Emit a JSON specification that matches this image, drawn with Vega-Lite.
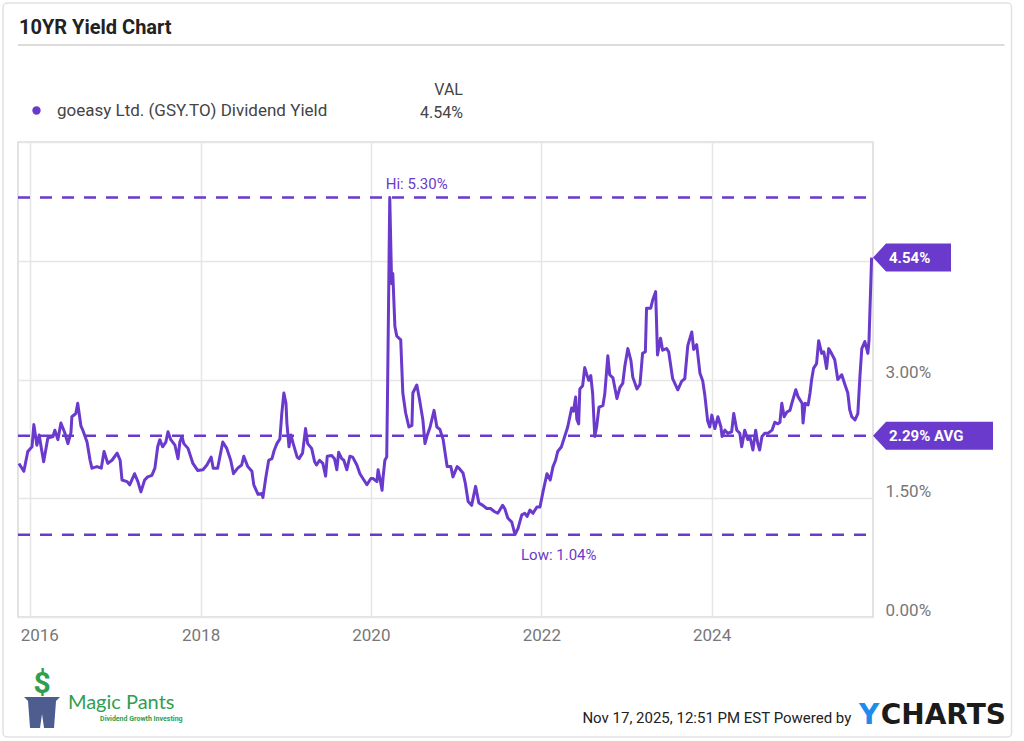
{
  "$schema": "https://vega.github.io/schema/vega-lite/v6.json",
  "width": 855,
  "height": 475,
  "autosize": "none",
  "padding": {"left": 18, "top": 142, "right": 151, "bottom": 124},
  "background": "white",
  "config": {
    "font": "Roboto",
    "view": {"stroke": "#d9d9d9", "strokeWidth": 1.5}
  },
  "layer": [
    {
      "data": {"values": [{"date": "2015-09-07", "date2": "2027-07-10", "v": 7.755, "v2": -1.516}]},
      "mark": {"type": "rect", "fill": null, "stroke": "#e2e2e2", "strokeWidth": 1.5, "cornerRadius": 4},
      "encoding": {
        "x": {"field": "date", "type": "temporal", "title": null},
        "x2": {"field": "date2"},
        "y": {"field": "v", "type": "quantitative", "title": null},
        "y2": {"field": "v2"}
      }
    },
    {
      "data": {"values": [{"date": "2015-11-10", "date2": "2027-06-10", "v": 7.225}]},
      "mark": {"type": "rule", "color": "#d0d0d0", "strokeWidth": 1.5},
      "encoding": {
        "x": {"field": "date", "type": "temporal", "title": null},
        "x2": {"field": "date2"},
        "y": {"field": "v", "type": "quantitative", "title": null}
      }
    },
    {
      "data": {"values": [{"date": "2015-11-14", "v": 7.44, "label": "10YR Yield Chart"}]},
      "mark": {"type": "text", "align": "left", "baseline": "middle", "fontSize": 20, "fontWeight": "bold", "color": "#222222"},
      "encoding": {
        "x": {"field": "date", "type": "temporal", "title": null},
        "y": {"field": "v", "type": "quantitative", "title": null},
        "text": {"field": "label"}
      }
    },
    {
      "data": {"values": [
        {"date": "2021-01-30", "v": 6.657, "label": "VAL"},
        {"date": "2021-01-30", "v": 6.366, "label": "4.54%"}
      ]},
      "mark": {"type": "text", "align": "right", "baseline": "middle", "fontSize": 16, "color": "#444444"},
      "encoding": {
        "x": {"field": "date", "type": "temporal", "title": null},
        "y": {"field": "v", "type": "quantitative", "title": null},
        "text": {"field": "label"}
      }
    },
    {
      "data": {"values": [{"v": 5.30}, {"v": 2.29}, {"v": 1.04}]},
      "mark": {"type": "rule", "color": "#6a3acd", "strokeWidth": 2.5, "strokeDash": [12, 10]},
      "encoding": {
        "x": {"datum": {"year": 2015, "month": "nov", "date": 10, "utc": true}, "type": "temporal"},
        "x2": {"datum": {"year": 2025, "month": "oct", "date": 26, "utc": true}},
        "y": {"field": "v", "type": "quantitative", "title": null}
      }
    },
    {
      "data": {"values": [
        {"date": "2015-11-14", "v": 1.94}, {"date": "2015-12-05", "v": 1.84}, {"date": "2015-12-22", "v": 2.09},
        {"date": "2016-01-09", "v": 2.15}, {"date": "2016-01-17", "v": 2.43}, {"date": "2016-01-30", "v": 2.17},
        {"date": "2016-02-09", "v": 2.30}, {"date": "2016-02-17", "v": 2.15}, {"date": "2016-02-28", "v": 1.96},
        {"date": "2016-03-17", "v": 2.26}, {"date": "2016-04-08", "v": 2.28}, {"date": "2016-04-16", "v": 2.36},
        {"date": "2016-04-29", "v": 2.24}, {"date": "2016-05-12", "v": 2.45}, {"date": "2016-05-28", "v": 2.33},
        {"date": "2016-06-11", "v": 2.19}, {"date": "2016-06-24", "v": 2.33}, {"date": "2016-06-28", "v": 2.53},
        {"date": "2016-07-15", "v": 2.57}, {"date": "2016-07-23", "v": 2.70}, {"date": "2016-08-06", "v": 2.41},
        {"date": "2016-08-14", "v": 2.36}, {"date": "2016-09-01", "v": 2.21}, {"date": "2016-09-14", "v": 1.98},
        {"date": "2016-09-22", "v": 1.88}, {"date": "2016-10-14", "v": 1.90}, {"date": "2016-11-01", "v": 1.88},
        {"date": "2016-11-13", "v": 2.09}, {"date": "2016-11-29", "v": 1.94}, {"date": "2016-12-17", "v": 1.98},
        {"date": "2017-01-08", "v": 2.07}, {"date": "2017-01-21", "v": 1.98}, {"date": "2017-01-29", "v": 1.73},
        {"date": "2017-02-20", "v": 1.71}, {"date": "2017-03-03", "v": 1.67}, {"date": "2017-03-24", "v": 1.81},
        {"date": "2017-04-07", "v": 1.71}, {"date": "2017-04-20", "v": 1.58}, {"date": "2017-05-06", "v": 1.73},
        {"date": "2017-05-19", "v": 1.77}, {"date": "2017-06-06", "v": 1.79}, {"date": "2017-06-19", "v": 1.88},
        {"date": "2017-07-01", "v": 2.15}, {"date": "2017-07-10", "v": 2.24}, {"date": "2017-07-22", "v": 2.15},
        {"date": "2017-08-05", "v": 2.21}, {"date": "2017-08-14", "v": 2.34}, {"date": "2017-08-26", "v": 2.24},
        {"date": "2017-09-13", "v": 2.17}, {"date": "2017-09-26", "v": 2.00}, {"date": "2017-10-04", "v": 2.21},
        {"date": "2017-10-13", "v": 2.28}, {"date": "2017-10-21", "v": 2.19}, {"date": "2017-11-08", "v": 2.13},
        {"date": "2017-11-29", "v": 1.94}, {"date": "2017-12-20", "v": 1.85}, {"date": "2018-01-11", "v": 1.86},
        {"date": "2018-01-28", "v": 1.92}, {"date": "2018-02-15", "v": 2.02}, {"date": "2018-02-24", "v": 1.88},
        {"date": "2018-03-15", "v": 1.88}, {"date": "2018-04-06", "v": 2.21}, {"date": "2018-04-23", "v": 2.13},
        {"date": "2018-05-10", "v": 1.98}, {"date": "2018-05-22", "v": 1.81}, {"date": "2018-06-09", "v": 1.88},
        {"date": "2018-06-26", "v": 1.92}, {"date": "2018-07-05", "v": 2.03}, {"date": "2018-07-22", "v": 1.90},
        {"date": "2018-08-09", "v": 1.84}, {"date": "2018-08-17", "v": 1.67}, {"date": "2018-09-04", "v": 1.55},
        {"date": "2018-09-21", "v": 1.56}, {"date": "2018-09-25", "v": 1.51}, {"date": "2018-10-08", "v": 1.77},
        {"date": "2018-10-20", "v": 1.98}, {"date": "2018-11-03", "v": 2.00}, {"date": "2018-11-12", "v": 2.10},
        {"date": "2018-11-24", "v": 2.19}, {"date": "2018-12-07", "v": 2.25}, {"date": "2018-12-15", "v": 2.57},
        {"date": "2018-12-24", "v": 2.83}, {"date": "2019-01-02", "v": 2.70}, {"date": "2019-01-06", "v": 2.45},
        {"date": "2019-01-15", "v": 2.15}, {"date": "2019-01-23", "v": 2.30}, {"date": "2019-02-02", "v": 2.19},
        {"date": "2019-02-19", "v": 2.02}, {"date": "2019-02-27", "v": 2.00}, {"date": "2019-03-14", "v": 2.07},
        {"date": "2019-03-27", "v": 2.38}, {"date": "2019-04-05", "v": 2.19}, {"date": "2019-04-22", "v": 2.13},
        {"date": "2019-05-05", "v": 1.96}, {"date": "2019-05-13", "v": 1.92}, {"date": "2019-05-26", "v": 1.98},
        {"date": "2019-06-09", "v": 1.94}, {"date": "2019-06-21", "v": 1.78}, {"date": "2019-06-28", "v": 2.03},
        {"date": "2019-07-17", "v": 2.04}, {"date": "2019-07-29", "v": 2.00}, {"date": "2019-08-08", "v": 1.86},
        {"date": "2019-08-16", "v": 2.08}, {"date": "2019-08-29", "v": 2.00}, {"date": "2019-09-07", "v": 1.98},
        {"date": "2019-09-20", "v": 1.86}, {"date": "2019-10-03", "v": 2.03}, {"date": "2019-10-15", "v": 2.02},
        {"date": "2019-11-02", "v": 1.92}, {"date": "2019-11-15", "v": 1.81}, {"date": "2019-12-02", "v": 1.73},
        {"date": "2019-12-15", "v": 1.67}, {"date": "2020-01-01", "v": 1.75}, {"date": "2020-01-10", "v": 1.75},
        {"date": "2020-01-27", "v": 1.71}, {"date": "2020-02-01", "v": 1.86}, {"date": "2020-02-09", "v": 1.75},
        {"date": "2020-02-18", "v": 1.60}, {"date": "2020-02-22", "v": 1.75}, {"date": "2020-03-01", "v": 1.98},
        {"date": "2020-03-09", "v": 2.02}, {"date": "2020-03-13", "v": 2.96}, {"date": "2020-03-22", "v": 5.30},
        {"date": "2020-03-30", "v": 4.21}, {"date": "2020-04-04", "v": 4.34}, {"date": "2020-04-13", "v": 3.67},
        {"date": "2020-04-21", "v": 3.55}, {"date": "2020-05-08", "v": 3.50}, {"date": "2020-05-17", "v": 2.83},
        {"date": "2020-05-29", "v": 2.58}, {"date": "2020-06-12", "v": 2.40}, {"date": "2020-06-25", "v": 2.42},
        {"date": "2020-06-29", "v": 2.83}, {"date": "2020-07-16", "v": 2.93}, {"date": "2020-07-28", "v": 2.74},
        {"date": "2020-08-11", "v": 2.49}, {"date": "2020-08-20", "v": 2.19}, {"date": "2020-08-28", "v": 2.28},
        {"date": "2020-09-11", "v": 2.40}, {"date": "2020-09-28", "v": 2.61}, {"date": "2020-10-10", "v": 2.40},
        {"date": "2020-10-23", "v": 2.37}, {"date": "2020-11-06", "v": 2.24}, {"date": "2020-11-23", "v": 1.90},
        {"date": "2020-12-09", "v": 1.90}, {"date": "2020-12-18", "v": 1.77}, {"date": "2021-01-05", "v": 1.90},
        {"date": "2021-01-13", "v": 1.88}, {"date": "2021-01-30", "v": 1.82}, {"date": "2021-02-09", "v": 1.69},
        {"date": "2021-02-21", "v": 1.46}, {"date": "2021-03-08", "v": 1.41}, {"date": "2021-03-25", "v": 1.65},
        {"date": "2021-04-08", "v": 1.44}, {"date": "2021-04-25", "v": 1.41}, {"date": "2021-05-12", "v": 1.37},
        {"date": "2021-05-28", "v": 1.37}, {"date": "2021-06-15", "v": 1.33}, {"date": "2021-06-28", "v": 1.31},
        {"date": "2021-07-19", "v": 1.41}, {"date": "2021-07-28", "v": 1.37}, {"date": "2021-08-10", "v": 1.25},
        {"date": "2021-08-27", "v": 1.20}, {"date": "2021-09-10", "v": 1.04}, {"date": "2021-09-23", "v": 1.12},
        {"date": "2021-10-09", "v": 1.29}, {"date": "2021-10-22", "v": 1.31}, {"date": "2021-11-01", "v": 1.27},
        {"date": "2021-11-13", "v": 1.35}, {"date": "2021-11-26", "v": 1.31}, {"date": "2021-12-13", "v": 1.39},
        {"date": "2021-12-26", "v": 1.39}, {"date": "2022-01-08", "v": 1.58}, {"date": "2022-01-25", "v": 1.81},
        {"date": "2022-02-08", "v": 1.73}, {"date": "2022-02-20", "v": 1.90}, {"date": "2022-03-03", "v": 1.98},
        {"date": "2022-03-12", "v": 2.09}, {"date": "2022-03-28", "v": 2.15}, {"date": "2022-04-11", "v": 2.28},
        {"date": "2022-04-24", "v": 2.40}, {"date": "2022-05-11", "v": 2.64}, {"date": "2022-05-19", "v": 2.60},
        {"date": "2022-05-28", "v": 2.78}, {"date": "2022-06-02", "v": 2.50}, {"date": "2022-06-10", "v": 2.44},
        {"date": "2022-06-15", "v": 2.88}, {"date": "2022-06-27", "v": 2.92}, {"date": "2022-07-06", "v": 3.15},
        {"date": "2022-07-14", "v": 3.07}, {"date": "2022-07-23", "v": 2.99}, {"date": "2022-08-01", "v": 3.05},
        {"date": "2022-08-09", "v": 2.82}, {"date": "2022-08-18", "v": 2.28}, {"date": "2022-08-26", "v": 2.40},
        {"date": "2022-09-05", "v": 2.65}, {"date": "2022-09-22", "v": 2.67}, {"date": "2022-09-30", "v": 2.82},
        {"date": "2022-10-13", "v": 3.30}, {"date": "2022-10-21", "v": 3.06}, {"date": "2022-11-04", "v": 3.02},
        {"date": "2022-11-21", "v": 2.76}, {"date": "2022-12-04", "v": 2.90}, {"date": "2022-12-16", "v": 2.95},
        {"date": "2022-12-25", "v": 3.17}, {"date": "2023-01-07", "v": 3.39}, {"date": "2023-01-20", "v": 3.24},
        {"date": "2023-01-28", "v": 3.03}, {"date": "2023-02-15", "v": 2.88}, {"date": "2023-02-28", "v": 2.94},
        {"date": "2023-03-11", "v": 3.33}, {"date": "2023-03-23", "v": 3.35}, {"date": "2023-03-28", "v": 3.90},
        {"date": "2023-04-15", "v": 3.90}, {"date": "2023-04-23", "v": 4.00}, {"date": "2023-05-06", "v": 4.11},
        {"date": "2023-05-14", "v": 3.31}, {"date": "2023-05-27", "v": 3.52}, {"date": "2023-06-05", "v": 3.37},
        {"date": "2023-06-22", "v": 3.39}, {"date": "2023-07-01", "v": 3.35}, {"date": "2023-07-18", "v": 3.01},
        {"date": "2023-08-09", "v": 2.87}, {"date": "2023-08-26", "v": 2.98}, {"date": "2023-09-08", "v": 3.01},
        {"date": "2023-09-21", "v": 3.43}, {"date": "2023-10-08", "v": 3.60}, {"date": "2023-10-16", "v": 3.38},
        {"date": "2023-10-29", "v": 3.44}, {"date": "2023-11-12", "v": 3.08}, {"date": "2023-11-24", "v": 2.98},
        {"date": "2023-12-03", "v": 2.80}, {"date": "2023-12-15", "v": 2.48}, {"date": "2023-12-24", "v": 2.40},
        {"date": "2024-01-02", "v": 2.55}, {"date": "2024-01-15", "v": 2.38}, {"date": "2024-01-28", "v": 2.53},
        {"date": "2024-02-10", "v": 2.40}, {"date": "2024-02-15", "v": 2.28}, {"date": "2024-02-27", "v": 2.36},
        {"date": "2024-03-10", "v": 2.32}, {"date": "2024-03-27", "v": 2.34}, {"date": "2024-04-05", "v": 2.57},
        {"date": "2024-04-18", "v": 2.36}, {"date": "2024-05-01", "v": 2.32}, {"date": "2024-05-09", "v": 2.15},
        {"date": "2024-05-22", "v": 2.36}, {"date": "2024-06-04", "v": 2.24}, {"date": "2024-06-13", "v": 2.28},
        {"date": "2024-06-26", "v": 2.11}, {"date": "2024-07-08", "v": 2.36}, {"date": "2024-07-17", "v": 2.19},
        {"date": "2024-07-25", "v": 2.11}, {"date": "2024-08-04", "v": 2.28}, {"date": "2024-08-16", "v": 2.32},
        {"date": "2024-08-29", "v": 2.32}, {"date": "2024-09-16", "v": 2.36}, {"date": "2024-09-28", "v": 2.46},
        {"date": "2024-10-11", "v": 2.44}, {"date": "2024-10-20", "v": 2.46}, {"date": "2024-10-28", "v": 2.70},
        {"date": "2024-11-07", "v": 2.53}, {"date": "2024-11-19", "v": 2.59}, {"date": "2024-12-02", "v": 2.61},
        {"date": "2024-12-10", "v": 2.70}, {"date": "2024-12-27", "v": 2.87}, {"date": "2025-01-06", "v": 2.78},
        {"date": "2025-01-23", "v": 2.70}, {"date": "2025-01-27", "v": 2.45}, {"date": "2025-02-05", "v": 2.70},
        {"date": "2025-02-18", "v": 2.68}, {"date": "2025-02-26", "v": 2.83}, {"date": "2025-03-05", "v": 3.00},
        {"date": "2025-03-13", "v": 3.14}, {"date": "2025-03-26", "v": 3.20}, {"date": "2025-04-04", "v": 3.49},
        {"date": "2025-04-17", "v": 3.33}, {"date": "2025-04-26", "v": 3.35}, {"date": "2025-05-08", "v": 3.14},
        {"date": "2025-05-17", "v": 3.39}, {"date": "2025-05-29", "v": 3.33}, {"date": "2025-06-12", "v": 3.25},
        {"date": "2025-06-25", "v": 3.00}, {"date": "2025-07-12", "v": 3.06}, {"date": "2025-07-24", "v": 2.95},
        {"date": "2025-08-07", "v": 2.83}, {"date": "2025-08-15", "v": 2.62}, {"date": "2025-08-24", "v": 2.53},
        {"date": "2025-09-07", "v": 2.49}, {"date": "2025-09-19", "v": 2.57}, {"date": "2025-09-28", "v": 3.04},
        {"date": "2025-10-06", "v": 3.39}, {"date": "2025-10-19", "v": 3.48}, {"date": "2025-11-01", "v": 3.33},
        {"date": "2025-11-06", "v": 3.50}, {"date": "2025-11-17", "v": 4.54}
      ]},
      "mark": {"type": "line", "strokeWidth": 3, "strokeJoin": "round", "interpolate": "linear"},
      "encoding": {
        "x": {
          "field": "date", "type": "temporal", "title": null,
          "scale": {"type": "utc", "domain": [{"year": 2015, "month": "nov", "date": 10, "utc": true}, {"year": 2025, "month": "nov", "date": 23, "utc": true}]},
          "axis": {
            "values": [{"year": 2016, "utc": true}, {"year": 2018, "utc": true}, {"year": 2020, "utc": true}, {"year": 2022, "utc": true}, {"year": 2024, "utc": true}],
            "format": "%Y", "formatType": "utc",
            "grid": true, "gridColor": "#e6e6e6", "gridWidth": 1.5,
            "domain": false, "ticks": false,
            "labelColor": "#777777", "labelFontSize": 17, "labelPadding": 10,
            "labelAlign": {"condition": {"test": "utcyear(datum.value) == 2016", "value": "left"}, "value": "center"},
            "labelOffset": {"condition": {"test": "utcyear(datum.value) == 2016", "value": -10}, "value": 0}
          }
        },
        "y": {
          "field": "v", "type": "quantitative", "title": null,
          "scale": {"domain": [0, 6], "nice": false, "zero": true},
          "axis": {
            "orient": "right",
            "values": [0, 1.5, 3, 4.5, 6],
            "labelExpr": "datum.value >= 4.5 ? '' : format(datum.value, '.2f') + '%'",
            "grid": true, "gridColor": "#e6e6e6", "gridWidth": 1.5,
            "domain": false, "ticks": false,
            "labelColor": "#777777", "labelFontSize": 17, "labelPadding": 12,
            "labelBaseline": "alphabetic", "labelOffset": -2
          }
        },
        "color": {
          "datum": "goeasy Ltd. (GSY.TO) Dividend Yield",
          "scale": {"range": ["#6a3acd"]},
          "legend": {
            "orient": "none", "legendX": 10, "legendY": -40, "title": null,
            "symbolType": "circle", "symbolSize": 70, "symbolFillColor": "#6a3acd", "symbolStrokeColor": "#6a3acd", "symbolStrokeWidth": 0,
            "labelFontSize": 17, "labelColor": "#444444", "labelOffset": 12, "labelFont": "Roboto", "labelLimit": 400
          }
        }
      }
    },
    {
      "data": {"values": [{"date": "2020-03-22", "v": 5.30, "label": "Hi: 5.30%"}]},
      "mark": {"type": "text", "align": "left", "baseline": "middle", "dx": -4, "dy": -13, "fontSize": 15, "color": "#6a3acd"},
      "encoding": {
        "x": {"field": "date", "type": "temporal", "title": null},
        "y": {"field": "v", "type": "quantitative", "title": null},
        "text": {"field": "label"}
      }
    },
    {
      "data": {"values": [{"date": "2021-09-10", "v": 1.04, "label": "Low: 1.04%"}]},
      "mark": {"type": "text", "align": "left", "baseline": "middle", "dx": 6, "dy": 20, "fontSize": 15, "color": "#6a3acd"},
      "encoding": {
        "x": {"field": "date", "type": "temporal", "title": null},
        "y": {"field": "v", "type": "quantitative", "title": null},
        "text": {"field": "label"}
      }
    },
    {
      "data": {"values": [{"date": "2025-11-23", "v": 4.54}]},
      "mark": {"type": "point", "shape": "M0,0L0.93,-1L5.57,-1L5.57,1L0.93,1Z", "size": 784, "filled": true, "fill": "#6a3acd", "opacity": 1, "strokeWidth": 0},
      "encoding": {
        "x": {"field": "date", "type": "temporal", "title": null},
        "y": {"field": "v", "type": "quantitative", "title": null}
      }
    },
    {
      "data": {"values": [{"date": "2025-11-23", "v": 2.29}]},
      "mark": {"type": "point", "shape": "M0,0L0.93,-1L8.57,-1L8.57,1L0.93,1Z", "size": 784, "filled": true, "fill": "#6a3acd", "opacity": 1, "strokeWidth": 0},
      "encoding": {
        "x": {"field": "date", "type": "temporal", "title": null},
        "y": {"field": "v", "type": "quantitative", "title": null}
      }
    },
    {
      "data": {"values": [
        {"date": "2025-11-23", "v": 4.54, "label": "4.54%"},
        {"date": "2025-11-23", "v": 2.29, "label": "2.29% AVG"}
      ]},
      "mark": {"type": "text", "align": "left", "baseline": "middle", "dx": 16, "fontSize": 15, "fontWeight": "bold", "color": "white"},
      "encoding": {
        "x": {"field": "date", "type": "temporal", "title": null},
        "y": {"field": "v", "type": "quantitative", "title": null},
        "text": {"field": "label"}
      }
    },
    {
      "data": {"values": [{"date": "2016-02-21", "v": -1.15}]},
      "mark": {"type": "point", "shape": "M-0.9,-0.55L0.9,-0.55L0.7,-0.35L0.6,1L0.1,1L0,0.3L-0.1,1L-0.6,1L-0.7,-0.35Z", "size": 1600, "filled": true, "fill": "#4d5d8f", "opacity": 1, "strokeWidth": 0},
      "encoding": {
        "x": {"field": "date", "type": "temporal", "title": null},
        "y": {"field": "v", "type": "quantitative", "title": null}
      }
    },
    {
      "data": {"values": [{"date": "2016-02-21", "v": -0.85, "label": "$"}]},
      "mark": {"type": "text", "align": "center", "baseline": "middle", "fontSize": 30, "fontWeight": "bold", "color": "#2f9e4f"},
      "encoding": {
        "x": {"field": "date", "type": "temporal", "title": null},
        "y": {"field": "v", "type": "quantitative", "title": null},
        "text": {"field": "label"}
      }
    },
    {
      "data": {"values": [{"date": "2016-06-11", "v": -1.09, "label": "Magic Pants"}]},
      "mark": {"type": "text", "align": "left", "baseline": "middle", "fontSize": 20, "font": "Lato", "color": "#2f9e4f"},
      "encoding": {
        "x": {"field": "date", "type": "temporal", "title": null},
        "y": {"field": "v", "type": "quantitative", "title": null},
        "text": {"field": "label"}
      }
    },
    {
      "data": {"values": [{"date": "2016-10-27", "v": -1.29, "label": "Dividend Growth Investing"}]},
      "mark": {"type": "text", "align": "left", "baseline": "middle", "fontSize": 7, "fontWeight": "bold", "color": "#2f9e4f"},
      "encoding": {
        "x": {"field": "date", "type": "temporal", "title": null},
        "y": {"field": "v", "type": "quantitative", "title": null},
        "text": {"field": "label"}
      }
    },
    {
      "data": {"values": [{"date": "2025-08-22", "v": -1.27, "label": "Nov 17, 2025, 12:51 PM EST Powered by"}]},
      "mark": {"type": "text", "align": "right", "baseline": "middle", "fontSize": 15, "color": "#222222"},
      "encoding": {
        "x": {"field": "date", "type": "temporal", "title": null},
        "y": {"field": "v", "type": "quantitative", "title": null},
        "text": {"field": "label"}
      }
    },
    {
      "data": {"values": [{"date": "2025-09-24", "v": -1.25, "label": "Y"}]},
      "mark": {"type": "text", "align": "left", "baseline": "middle", "fontSize": 28, "fontWeight": "bold", "font": "DejaVu Sans", "color": "#1f8ceb"},
      "encoding": {
        "x": {"field": "date", "type": "temporal", "title": null},
        "y": {"field": "v", "type": "quantitative", "title": null},
        "text": {"field": "label"}
      }
    },
    {
      "data": {"values": [{"date": "2025-12-26", "v": -1.25, "label": "CHARTS"}]},
      "mark": {"type": "text", "align": "left", "baseline": "middle", "fontSize": 28, "fontWeight": "bold", "font": "DejaVu Sans", "color": "#1b1b1b"},
      "encoding": {
        "x": {"field": "date", "type": "temporal", "title": null},
        "y": {"field": "v", "type": "quantitative", "title": null},
        "text": {"field": "label"}
      }
    }
  ]
}
